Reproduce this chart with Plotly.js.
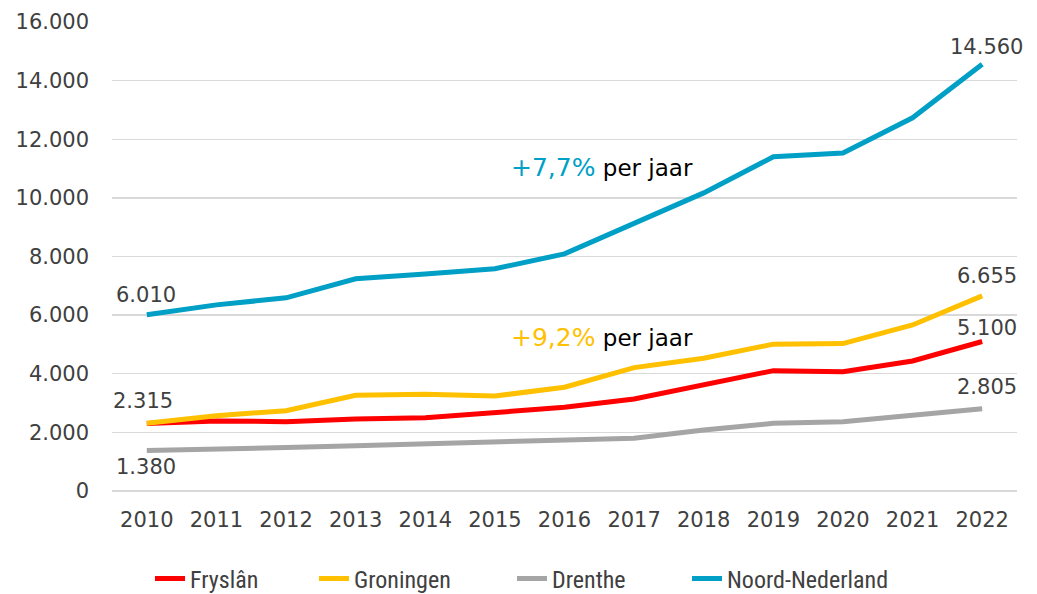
<!DOCTYPE html>
<html><head><meta charset="utf-8">
<script src="https://cdn.plot.ly/plotly-3.0.1.min.js"></script>
<style>html,body{margin:0;padding:0;background:#fff}#chart{width:1037px;height:594px}</style>
</head><body><div id="chart"></div>
<script>
const years = ['2010','2011','2012','2013','2014','2015','2016','2017','2018','2019','2020','2021','2022'];
const fryslan = [2300,2390,2365,2460,2500,2685,2855,3140,3620,4105,4070,4435,5100];
const groningen = [2315,2570,2740,3265,3300,3240,3540,4210,4530,5010,5030,5665,6655];
const drenthe = [1380,1420,1480,1545,1615,1695,1740,1800,2080,2310,2365,2595,2805];
const noord = [6010,6350,6590,7240,7400,7580,8090,9110,10170,11400,11530,12730,14560];
const names = ['Fryslân','Groningen','Drenthe','Noord-Nederland'];
const colors = ['#FF0000','#FFC000','#A5A5A5','#009FC6'];
const series = [fryslan, groningen, drenthe, noord];
const growthText = ['+7,7%','+9,2%'];

const fnt = 'DejaVu Sans, Liberation Sans, sans-serif';
const narrow = 'Liberation Sans Narrow, Roboto Condensed, DejaVu Sans Condensed, Liberation Sans, sans-serif';
const legendIds = ['legend','legend2','legend3','legend4'];
const legendX = [150, 314, 512, 687];
const traces = series.map((s,i)=>({
  x: years.map((y,k)=>k), y: s, name: names[i], type:'scatter', mode:'lines',
  line:{color:colors[i], width:5}, hoverinfo:'skip', legend: legendIds[i]
}));

function fmt(v){return String(v).replace(/\B(?=(\d{3})+(?!\d))/g,'.');}
const ann = [];
function lab(xi, arr, dx, dy, xanchor){
  ann.push({x: xi, y: arr[xi], xref:'x', yref:'y', text: fmt(arr[xi]), showarrow:false,
    xshift:dx, yshift:dy, xanchor:xanchor, yanchor:'middle', font:{family:fnt,size:21,color:'#404040'}});
}
lab(0, noord, -33, 20, 'left');
lab(0, groningen, -36, 22, 'left');
lab(0, drenthe, -33, -16, 'left');
lab(12, noord, 4, 17, 'center');
lab(12, groningen, 5, 20, 'center');
lab(12, fryslan, 5, 14, 'center');
lab(12, drenthe, 5, 22, 'center');
ann.push({x:5.2, y:11020, xref:'x', yref:'y', xanchor:'left', yanchor:'middle', showarrow:false,
  text:'<span style="color:'+colors[3]+';font-size:25px">'+growthText[0]+'</span> per jaar', font:{family:fnt,size:23,color:'#000'}});
ann.push({x:5.2, y:5220, xref:'x', yref:'y', xanchor:'left', yanchor:'middle', showarrow:false,
  text:'<span style="color:'+colors[1]+';font-size:25px">'+growthText[1]+'</span> per jaar', font:{family:fnt,size:23,color:'#000'}});

const layout = {
  width:1037, height:594,
  margin:{l:112, r:20, t:22, b:103},
  paper_bgcolor:'#fff', plot_bgcolor:'#fff',
  showlegend:true,
  xaxis:{type:'linear', range:[-0.5,12.5], tickvals:years.map((y,k)=>k), ticktext:years,
    showgrid:false, zeroline:false, showline:false, ticks:'', ticklabelstandoff:14,
    tickfont:{family:fnt,size:21,color:'#404040'}, fixedrange:true},
  yaxis:{range:[0,16000], tickvals:[0,2000,4000,6000,8000,10000,12000,14000,16000],
    ticktext:['0','2.000','4.000','6.000','8.000','10.000','12.000','14.000','16.000'],
    showgrid:true, gridcolor:'#D9D9D9', gridwidth:1.3,
    zeroline:true, zerolinecolor:'#D9D9D9', zerolinewidth:1.3, showline:false, ticks:'', ticklabelstandoff:22,
    tickfont:{family:fnt,size:21,color:'#404040'}, fixedrange:true},
  annotations: ann
};
legendIds.forEach((id,i)=>{
  layout[id] = {orientation:'h', x:legendX[i]/1037, xanchor:'left', xref:'container',
    y:15/594, yref:'container', yanchor:'middle',
    font:{family:narrow,size:24,color:'#404040'}, bgcolor:'rgba(0,0,0,0)'};
});
Plotly.newPlot('chart', traces, layout, {displayModeBar:false, staticPlot:true});
</script></body></html>
